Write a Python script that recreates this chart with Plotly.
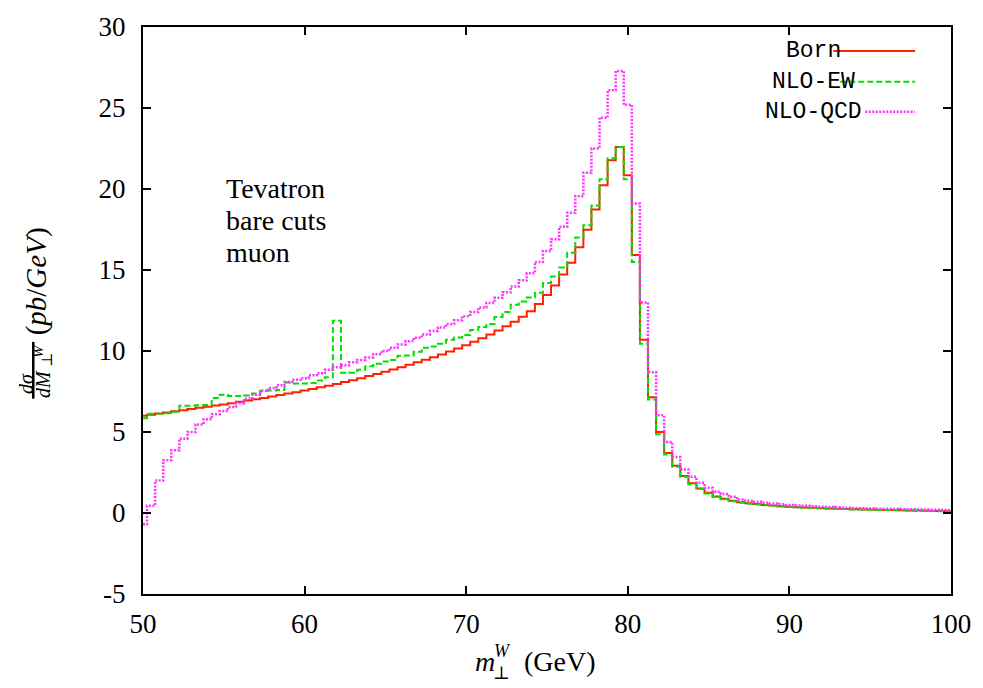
import plotly.graph_objects as go

# transverse mass bin centres (GeV), 0.5 GeV spacing
mt_w = [50 + 0.5 * i for i in range(101)]

born = [
    6.00, 6.07, 6.14, 6.21, 6.28, 6.35, 6.42, 6.49, 6.56, 6.63,
    6.70, 6.78, 6.86, 6.94, 7.02, 7.10, 7.19, 7.28, 7.37, 7.46,
    7.56, 7.66, 7.76, 7.86, 7.97, 8.08, 8.20, 8.32, 8.45, 8.58,
    8.72, 8.86, 9.00, 9.15, 9.30, 9.46, 9.62, 9.79, 9.97, 10.16,
    10.36, 10.57, 10.79, 11.02, 11.27, 11.53, 11.81, 12.11, 12.45, 12.90,
    13.45, 14.05, 14.72, 15.45, 16.40, 17.48, 18.73, 20.23, 21.77, 22.59,
    20.85, 15.93, 10.70, 7.15, 5.00, 3.71, 2.91, 2.28, 1.83, 1.52,
    1.25, 1.02, 0.88, 0.76, 0.66, 0.60, 0.55, 0.50, 0.46, 0.42,
    0.39, 0.36, 0.34, 0.32, 0.30, 0.28, 0.26, 0.25, 0.23, 0.22,
    0.21, 0.20, 0.19, 0.18, 0.17, 0.16, 0.15, 0.14, 0.13, 0.12,
    0.11,
]

nlo_ew = [
    5.85, 6.12, 6.12, 6.15, 6.25, 6.62, 6.62, 6.65, 6.66, 7.10,
    7.30, 7.22, 7.22, 7.25, 7.38, 7.55, 7.56, 7.60, 8.05, 8.00,
    8.00, 8.02, 8.18, 8.38, 11.87, 8.65, 8.66, 8.84, 9.06, 9.22,
    9.35, 9.45, 9.70, 9.72, 9.95, 10.20, 10.28, 10.44, 10.70, 10.84,
    10.98, 11.30, 11.48, 11.66, 12.10, 12.40, 12.85, 13.05, 13.30, 13.60,
    14.20, 14.60, 15.15, 16.07, 17.00, 17.77, 18.98, 20.60, 21.90, 22.60,
    20.60, 15.50, 10.44, 7.00, 4.86, 3.61, 2.85, 2.23, 1.78, 1.48,
    1.21, 0.99, 0.85, 0.73, 0.63, 0.57, 0.52, 0.48, 0.44, 0.40,
    0.37, 0.35, 0.33, 0.31, 0.29, 0.27, 0.25, 0.24, 0.22, 0.21,
    0.20, 0.19, 0.18, 0.17, 0.16, 0.15, 0.14, 0.13, 0.12, 0.11,
    0.10,
]

nlo_qcd = [
    -0.70, 0.45, 2.00, 3.26, 3.87, 4.59, 5.00, 5.47, 5.78, 6.09,
    6.29, 6.54, 6.78, 7.05, 7.30, 7.55, 7.72, 7.88, 8.08, 8.22,
    8.32, 8.50, 8.62, 8.85, 9.00, 9.12, 9.30, 9.45, 9.60, 9.80,
    10.00, 10.20, 10.40, 10.60, 10.82, 11.02, 11.24, 11.45, 11.66, 11.90,
    12.15, 12.40, 12.68, 12.97, 13.28, 13.62, 13.98, 14.36, 14.80, 15.50,
    16.17, 16.90, 17.67, 18.53, 19.56, 21.00, 22.50, 24.40, 26.10, 27.29,
    25.20, 19.10, 13.00, 8.69, 6.03, 4.39, 3.46, 2.69, 2.23, 1.86,
    1.56, 1.31, 1.17, 1.00, 0.84, 0.76, 0.69, 0.63, 0.58, 0.54,
    0.50, 0.47, 0.44, 0.41, 0.39, 0.37, 0.35, 0.33, 0.31, 0.30,
    0.28, 0.27, 0.26, 0.25, 0.24, 0.23, 0.22, 0.21, 0.20, 0.19,
    0.18,
]

x_ticks = [50, 60, 70, 80, 90, 100]
y_ticks = [-5, 0, 5, 10, 15, 20, 25, 30]
y_tick_text = ["-5", "0", "5", "10", "15", "20", "25", "30"]

run_info = ["Tevatron", "bare cuts", "muon"]

series = [
    ("Born", born, "#ff2000", "solid", 2),
    ("NLO-EW", nlo_ew, "#00e000", "6px,3px", 2),
    ("NLO-QCD", nlo_qcd, "#ff33ff", "2px,1.5px", 2.5),
]

W, H = 983, 688
L, R, T, B = 143, 30, 25, 94
pw, ph = W - L - R, H - T - B


def px(xp):
    return (xp - L) / pw


def py(yp):
    return (H - B - yp) / ph


serif = "Liberation Serif, DejaVu Serif, serif"
mono = "Liberation Mono, DejaVu Sans Mono, monospace"


def label(x, y, text, size, angle=0, xanchor="center"):
    fig.add_annotation(xref="paper", yref="paper", x=px(x), y=py(y),
                       text=text, showarrow=False, textangle=angle,
                       xanchor=xanchor, yanchor="middle",
                       font=dict(family=serif, size=size, color="black"))


fig = go.Figure()
for name, vals, color, dash, lw in series:
    fig.add_trace(go.Scatter(
        x=mt_w, y=vals, name=name, mode="lines",
        line=dict(color=color, width=lw, dash=dash, shape="hvh"),
        showlegend=False,
    ))

# key in the upper right corner: centred label, sample line to the right
key_rows = [(49, 835), (80, 842), (110, 867)]
for (name, vals, color, dash, lw), (yrow, x0) in zip(series, key_rows):
    fig.add_shape(type="line", xref="paper", yref="paper",
                  x0=px(x0), x1=px(917), y0=py(yrow), y1=py(yrow),
                  line=dict(color=color, width=lw, dash=dash))
    fig.add_annotation(xref="paper", yref="paper", x=px(815), y=py(yrow),
                       text=name, showarrow=False, xanchor="center",
                       yanchor="middle",
                       font=dict(family=mono, size=23, color="black"))

# run description, one line per annotation (graph coordinates)
for i, line_text in enumerate(run_info):
    fig.add_annotation(xref="x", yref="y", x=55.0, y=20.05 - 1.97 * i,
                       text=line_text, showarrow=False,
                       xanchor="left", yanchor="middle", align="left",
                       font=dict(family=serif, size=28, color="black"))

# y-axis title: rotated fraction dσ / dM⊥^W followed by the unit
label(25, 383, "<i>dσ</i>", 20, -90)
fig.add_shape(type="line", xref="paper", yref="paper",
              x0=px(33), x1=px(33), y0=py(341), y1=py(398),
              line=dict(color="black", width=2.5))
label(42, 383, "<i>dM</i>", 20, -90)
label(47, 359, "⊥", 15, -90)
label(38, 350, "<i>W</i>", 15, -90)
label(36, 280, "(<i>pb</i>/<i>GeV</i>)", 29, -90)

# x-axis title: m⊥^W (GeV)
label(486, 662, "<i>m</i>", 28)
label(502, 673, "⊥", 18)
label(503, 651, "<i>W</i>", 18)
label(561, 662, "(GeV)", 28)

axis_common = dict(
    showline=True, linecolor="black", linewidth=2, mirror="ticks",
    ticks="inside", ticklen=8, tickwidth=1.5, tickcolor="black",
    showgrid=False, zeroline=False,
    tickfont=dict(family=serif, size=27, color="black"),
)

fig.update_xaxes(range=[50, 100], tickvals=x_ticks,
                 ticktext=[str(v) for v in x_ticks],
                 ticklabelstandoff=5, **axis_common)
fig.update_yaxes(range=[-5, 30], tickvals=y_ticks, ticktext=y_tick_text,
                 ticklabelstandoff=10, **axis_common)

fig.update_layout(
    width=W, height=H, autosize=False,
    margin=dict(l=L, r=R, t=T, b=B),
    paper_bgcolor="white", plot_bgcolor="white",
)

fig.write_html("out.html")
